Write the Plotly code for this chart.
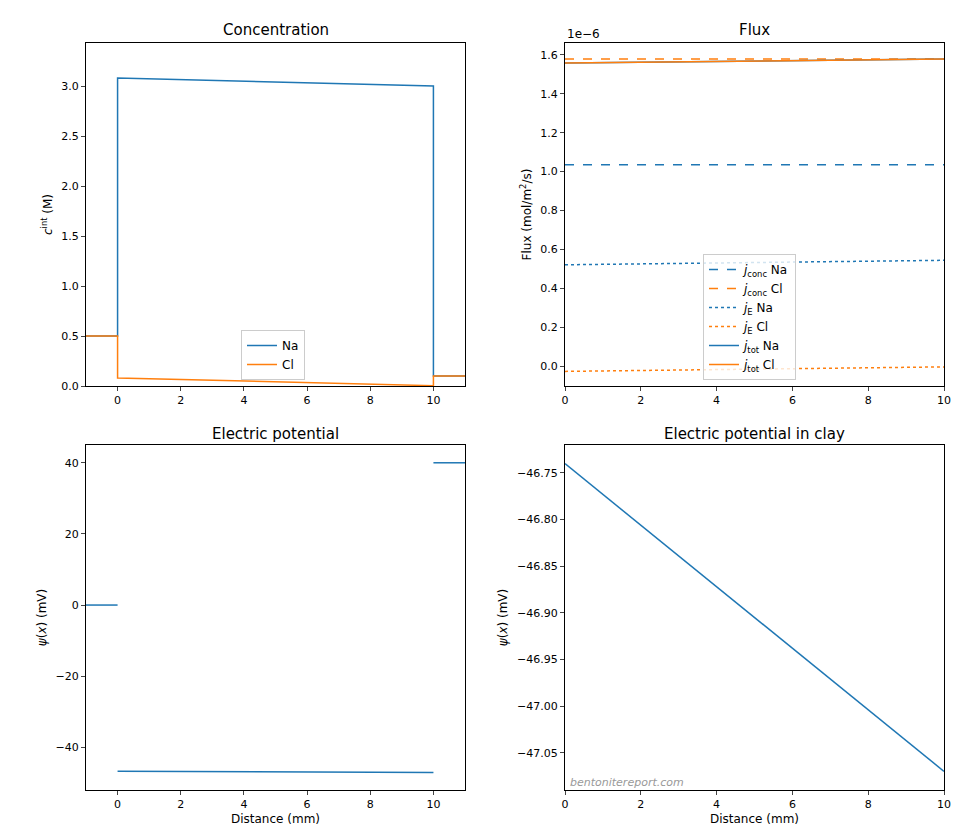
import plotly.graph_objects as go

# Concentration data (M)
conc_x = [-1, 0, 0, 10, 10, 11]
na_conc = [0.5, 0.5, 3.08, 3.0, 0.1, 0.1]
cl_conc = [0.5, 0.5, 0.08, 0.003, 0.1, 0.1]

# Flux data (1e-6 mol/m2/s)
flux_x = [0, 10]
jconc_na = [1.035, 1.035]
jconc_cl = [1.578, 1.578]
jE_na = [0.522, 0.545]
jE_cl = [-0.025, -0.002]
jtot_na = [1.557, 1.578]
jtot_cl = [1.557, 1.578]

# Potential (mV)
pot_segments = [([-1, 0], [0, 0]), ([0, 10], [-46.74, -47.07]), ([10, 11], [40, 40])]
clay_x = [0, 10]
clay_psi = [-46.74, -47.07]

blue, orange = "#1f77b4", "#ff7f0e"
fig = go.Figure()
fig.add_trace(go.Scatter(x=conc_x, y=na_conc, mode="lines", line=dict(color=blue, width=1.5), name="Na", legend="legend"))
fig.add_trace(go.Scatter(x=conc_x, y=cl_conc, mode="lines", line=dict(color=orange, width=1.5), name="Cl", legend="legend"))

fl = [(jconc_na, blue, "dash", "<i>j</i><sub>conc</sub> Na"), (jconc_cl, orange, "dash", "<i>j</i><sub>conc</sub> Cl"),
      (jE_na, blue, "dot", "<i>j</i><sub>E</sub> Na"), (jE_cl, orange, "dot", "<i>j</i><sub>E</sub> Cl"),
      (jtot_na, blue, "solid", "<i>j</i><sub>tot</sub> Na"), (jtot_cl, orange, "solid", "<i>j</i><sub>tot</sub> Cl")]
for y, c, d, n in fl:
    fig.add_trace(go.Scatter(x=flux_x, y=y, mode="lines", line=dict(color=c, dash=d, width=1.5), name=n,
                             xaxis="x2", yaxis="y2", legend="legend2"))
for xs, ys in pot_segments:
    fig.add_trace(go.Scatter(x=xs, y=ys, mode="lines", line=dict(color=blue, width=1.5), showlegend=False, xaxis="x3", yaxis="y3"))
fig.add_trace(go.Scatter(x=clay_x, y=clay_psi, mode="lines", line=dict(color=blue, width=1.5), showlegend=False, xaxis="x4", yaxis="y4"))

ax = dict(showline=True, mirror=True, linecolor="black", ticks="outside", ticklen=4, showgrid=False, zeroline=False,
          tickfont=dict(size=11), automargin=False)
xd1, xd2 = [78/960, 457/960], [557/960, 936/960]
yd1, yd2 = [1-378/840, 1-35/840], [1-782/840, 1-437/840]
ttl = dict(size=12)
fig.update_layout(
    width=960, height=840, margin=dict(l=0, r=0, t=0, b=0, autoexpand=False), plot_bgcolor="white", paper_bgcolor="white",
    font=dict(family="DejaVu Sans", color="black"),
    xaxis=dict(ax, domain=xd1, range=[-1, 11], anchor="y", dtick=2),
    yaxis=dict(ax, domain=yd1, range=[0, 3.43], anchor="x", dtick=0.5, tickformat=".1f",
               title=dict(text="<i>c</i><sup>int</sup> (M)", font=ttl, standoff=6)),
    xaxis2=dict(ax, domain=xd2, range=[0, 10], anchor="y2", dtick=2),
    yaxis2=dict(ax, domain=yd1, range=[-0.1, 1.66], anchor="x2", dtick=0.2, tickformat=".1f",
                title=dict(text="Flux (mol/m<sup>2</sup>/s)", font=ttl, standoff=6)),
    xaxis3=dict(ax, domain=xd1, range=[-1, 11], anchor="y3", dtick=2, title=dict(text="Distance (mm)", font=ttl, standoff=4)),
    yaxis3=dict(ax, domain=yd2, range=[-52, 45], anchor="x3", dtick=20, title=dict(text="<i>ψ</i>(<i>x</i>) (mV)", font=ttl, standoff=6)),
    xaxis4=dict(ax, domain=xd2, range=[0, 10], anchor="y4", dtick=2, title=dict(text="Distance (mm)", font=ttl, standoff=4)),
    yaxis4=dict(ax, domain=yd2, range=[-47.09, -46.72], anchor="x4", dtick=0.05, tickformat=".2f",
                title=dict(text="<i>ψ</i>(<i>x</i>) (mV)", font=ttl, standoff=6)),
    legend=dict(x=233/960, y=1-372/840, xanchor="left", yanchor="bottom", bordercolor="#ccc", borderwidth=1,
                font=dict(size=12), bgcolor="rgba(255,255,255,0.8)"),
    legend2=dict(x=695/960, y=1-372/840, xanchor="left", yanchor="bottom", bordercolor="#ccc", borderwidth=1,
                 font=dict(size=12), bgcolor="rgba(255,255,255,0.8)"),
)
anns = [("Concentration", 267.5, 22), ("Flux", 746.5, 22), ("Electric potential", 267.5, 426), ("Electric potential in clay", 746.5, 426)]
for t, x, y in anns:
    fig.add_annotation(text=t, x=x/960, y=1-y/840, xref="paper", yref="paper", showarrow=False,
                       xanchor="center", yanchor="middle", font=dict(size=15))
fig.add_annotation(text="1e−6", x=557/960, y=1-26/840, xref="paper", yref="paper", showarrow=False,
                   xanchor="left", yanchor="middle", font=dict(size=12))
fig.add_annotation(text="<i>bentonitereport.com</i>", x=560/960, y=1-774/840, xref="paper", yref="paper", showarrow=False,
                   xanchor="left", yanchor="middle", font=dict(size=11, color="#999"))
fig.write_html("out.html")
